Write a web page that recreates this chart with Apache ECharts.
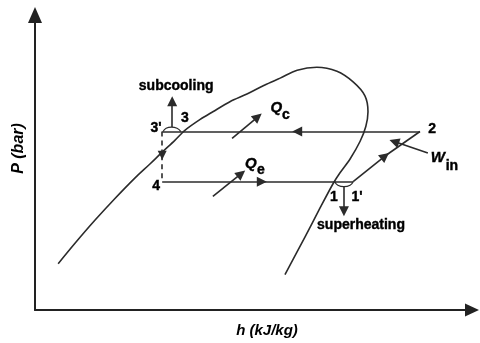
<!DOCTYPE html>
<html>
<head>
<meta charset="utf-8">
<script src="https://cdn.jsdelivr.net/npm/echarts@6/dist/echarts.min.js"></script>
<style>
html,body{margin:0;padding:0;background:#fff;}
#c{width:480px;height:343px;}
</style>
</head>
<body>
<div id="c"></div>
<script>
// Saturation dome [h, P] (schematic units 0-100)
const domeCurve = [
  [5.3,15.7],[9.2,22.7],[13.7,30.4],[18.3,37.8],[22.9,44.8],[26.3,49.5],[29.1,53.5],
  [32.0,57.5],[34.3,60.9],[37.8,64.6],[40.7,67.2],[44.6,70.6],[48.5,73.2],[52.6,76.3],
  [56.1,78.6],[60.0,81.3],[64.5,82.3],[69.1,80.9],[72.8,77.3],[75.5,72.6],[76.2,67.2],
  [75.7,62.2],[74.4,57.2],[72.1,51.2],[69.8,46.5],[68.2,42.8],[65.2,34.5],[61.8,24.8],[57.2,12.0]
];
// Cycle state points
const P_high = 60.5, P_low = 43.5;
const h_3p = 29.1, h_2 = 88.1, h_1p = 72.8, h_4 = 29.1;
// Mid-line arrow positions along cycle
const arrowTopH = 60.0, arrowBottomH = 51.9, arrowDiag = [80.1, 52.2], arrowDashP = 52.5;
// Cycle segments ending with an arrow head
const cycleArrowSegs = [
  [[h_2, P_high], [arrowTopH, P_high]],
  [[h_4, P_low], [arrowBottomH, P_low]],
  [[h_1p, P_low], arrowDiag]
];
// Cycle segments without arrow
const cyclePlainSegs = [
  [[arrowTopH, P_high], [h_3p, P_high]],
  [[arrowBottomH, P_low], [h_1p, P_low]],
  [arrowDiag, [h_2, P_high]]
];
const dashArrowSegs = [[[h_3p, P_high], [h_3p, arrowDashP]]];
const dashPlainSegs = [[[h_3p, arrowDashP], [h_4, P_low]]];
// Annotation arrows (subcooling, superheating, Qc, Qe, Win)
const annotArrows = [
  [[31.4, 62.0], [31.4, 70.8]],
  [[70.7, 41.8], [70.7, 33.5]],
  [[45.1, 58.2], [51.0, 65.5]],
  [[40.7, 38.5], [47.2, 46.2]],
  [[89.9, 53.2], [82.2, 57.1]]
];
// Small brackets at 3'-3 and 1-1'
const bracketSub = [[29.3,60.5],[30.0,61.6],[31.2,62.0],[32.5,61.6],[33.4,60.5]];
const bracketSup = [[68.6,43.5],[69.3,42.3],[70.7,41.8],[72.1,42.3],[72.8,43.5]];
// Text annotations
const labelTexts = ['subcooling', "3'", '3', '4', '1', "1'", 'superheating', '2', 'Q', 'c', 'Q', 'e', 'W', 'in'];
const labelPos = [
  [32.3,75.9],[27.7,61.5],[34.3,64.9],[27.7,42.1],[68.4,38.1],[73.7,38.1],[74.6,28.8],
  [90.9,61.2],[55.2,68.6],[57.4,65.9],[49.4,49.5],[51.7,47.5],[92.2,51.5],[95.4,48.8]
];
const labelKinds = ['w','w','w','w','w','w','w','w','q','s','q','s','q','s'];
const xName = 'h (kJ/kg)', yName = 'P (bar)';

const FONT = 'Liberation Sans, Arial, sans-serif';
const LINE = '#2b2b2b';
const kindStyle = {
  w: {fontSize: 14, fontWeight: 'bold', fontStyle: 'normal'},
  q: {fontSize: 15, fontWeight: 'bold', fontStyle: 'italic'},
  s: {fontSize: 14, fontWeight: 'bold', fontStyle: 'normal'}
};
const toLines = segs => segs.map(s => ({coords: s}));

const chart = echarts.init(document.getElementById('c'), null, {renderer: 'canvas'});
chart.setOption({
  animation: false,
  backgroundColor: '#fff',
  textStyle: {fontFamily: FONT},
  grid: {left: 35, right: 8, top: 15, bottom: 29, containLabel: false},
  xAxis: {
    type: 'value', min: 0, max: 100,
    name: xName, nameLocation: 'middle', nameGap: 13,
    nameTextStyle: {fontSize: 15, fontWeight: 'bold', fontStyle: 'italic', color: '#000', fontFamily: FONT, padding: [0,0,0,27]},
    axisLine: {show: true, symbol: ['none','triangle'], symbolSize: [13, 14], lineStyle: {color: '#222', width: 2}},
    axisTick: {show: false}, axisLabel: {show: false}, splitLine: {show: false}
  },
  yAxis: {
    type: 'value', min: 0, max: 100,
    name: yName, nameLocation: 'middle', nameGap: 8,
    nameTextStyle: {fontSize: 16, fontWeight: 'bold', fontStyle: 'italic', color: '#000', fontFamily: FONT, padding: [0,0,0,28]},
    axisLine: {show: true, symbol: ['none','triangle'], symbolSize: [14, 16], lineStyle: {color: '#222', width: 2}},
    axisTick: {show: false}, axisLabel: {show: false}, splitLine: {show: false}
  },
  series: [
    {type: 'line', data: domeCurve, smooth: 0.3, showSymbol: false, lineStyle: {color: LINE, width: 1.6}},
    {type: 'lines', coordinateSystem: 'cartesian2d', data: toLines(cyclePlainSegs), symbol: 'none',
      lineStyle: {color: LINE, width: 1.6, opacity: 1}},
    {type: 'lines', coordinateSystem: 'cartesian2d', data: toLines(cycleArrowSegs), symbol: ['none','triangle'], symbolSize: 10,
      lineStyle: {color: LINE, width: 1.6, opacity: 1}, itemStyle: {color: '#111'}},
    {type: 'lines', coordinateSystem: 'cartesian2d', data: toLines(dashPlainSegs), symbol: 'none',
      lineStyle: {color: LINE, width: 1.6, type: [5,4], opacity: 1}},
    {type: 'lines', coordinateSystem: 'cartesian2d', data: toLines(dashArrowSegs), symbol: ['none','triangle'], symbolSize: 9,
      lineStyle: {color: LINE, width: 1.6, type: [5,4], opacity: 1}},
    {type: 'lines', coordinateSystem: 'cartesian2d', data: toLines(annotArrows), symbol: ['none','triangle'], symbolSize: 10,
      lineStyle: {color: LINE, width: 1.6, opacity: 1}},
    {type: 'line', data: bracketSub, smooth: true, showSymbol: false, lineStyle: {color: LINE, width: 1.2}},
    {type: 'line', data: bracketSup, smooth: true, showSymbol: false, lineStyle: {color: LINE, width: 1.2}},
    {type: 'scatter', symbolSize: 1, itemStyle: {color: 'rgba(0,0,0,0)', opacity: 1}, silent: true,
      data: labelTexts.map((t, i) => ({
        name: t, value: labelPos[i],
        label: Object.assign({show: true, position: 'inside', formatter: '{b}', color: '#000', opacity: 1,
          textBorderColor: '#000', textBorderWidth: 0.4,
          fontFamily: FONT, align: 'center', verticalAlign: 'middle'}, kindStyle[labelKinds[i]])
      }))
    }
  ]
});
</script>
</body>
</html>
